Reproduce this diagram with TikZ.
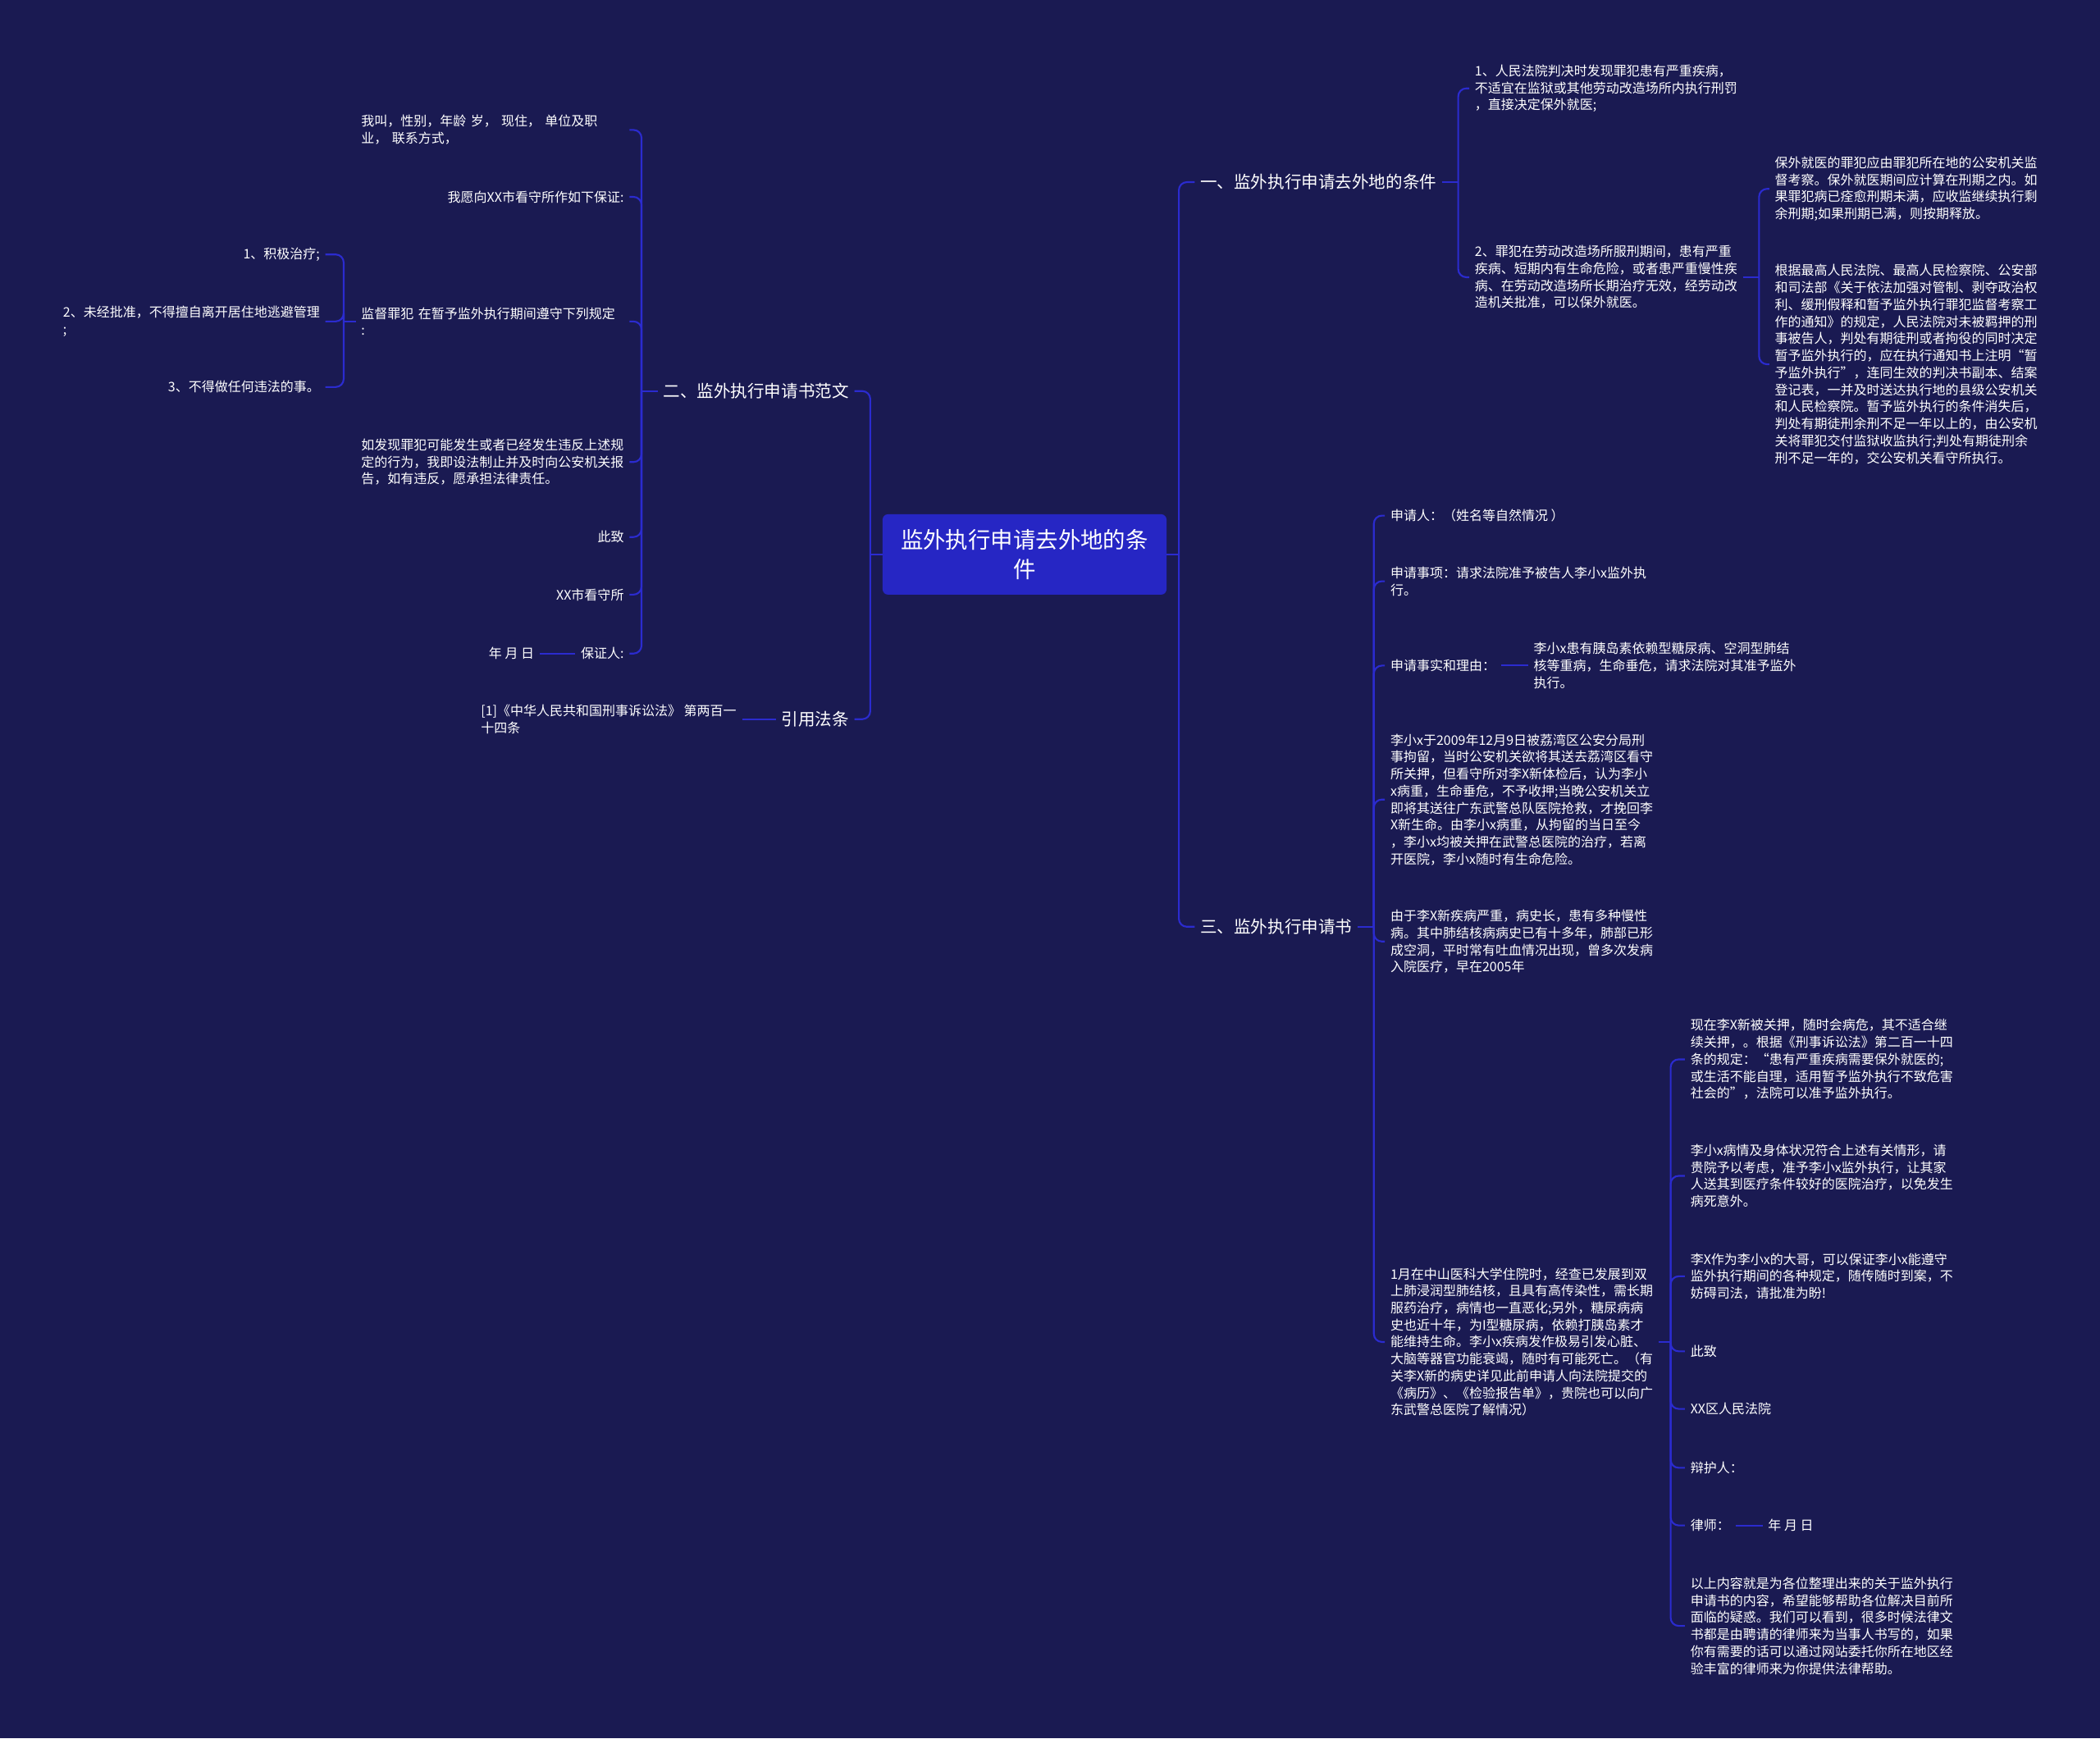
\documentclass[tikz,border=0pt]{standalone}
\usepackage{fontspec}
\setmainfont{Noto Sans CJK SC}
\usetikzlibrary{positioning,calc}
\definecolor{bgnavy}{HTML}{1A1A52}
\definecolor{linkblue}{HTML}{2B2BCF}
\definecolor{rootblue}{HTML}{2626C4}
\tikzset{
  root/.style={fill=rootblue, rounded corners=4pt, text=white, align=center,
    minimum width=212pt, minimum height=60pt,
    font=\fontsize{16.8}{22}\selectfont},
  branch/.style={text=white, inner xsep=4pt, inner ysep=2pt,
    font=\fontsize{12.6}{16}\selectfont},
  leaf/.style={text=white, align=left, inner xsep=4pt, inner ysep=2pt,
    font=\fontsize{9.8}{12.7}\selectfont},
  wideleaf/.style={leaf, text width=196pt},
  link/.style={draw=linkblue, line width=1.3pt},
  curvelink/.style={link, rounded corners=6pt}
}

\begin{document}
\begin{tikzpicture}[x=1pt,y=-1pt]
    % background and page size
    \fill[bgnavy] (0,0) rectangle (1568,1298);
    \useasboundingbox (0,0) rectangle (1568,1298);

    % the centre and the four branches
    \node [root] (root) at (765,414) {监外执行申请去外地的条\\件};
    \node [branch, anchor=west] (cond) at (892,136) {一、监外执行申请去外地的条件};
    \node [branch, anchor=west] (app) at (892,692) {三、监外执行申请书};
    \node [branch, anchor=east] (form) at (638,292) {二、监外执行申请书范文};
    \node [branch, anchor=east] (law) at (638,537) {引用法条};

    % branch one
    \node [leaf, anchor=west] (cond1) at (1097,66) {1、人民法院判决时发现罪犯患有严重疾病，\\不适宜在监狱或其他劳动改造场所内执行刑罚\\，直接决定保外就医;};
    \node [leaf, anchor=west] (cond2) at (1097,207) {2、罪犯在劳动改造场所服刑期间，患有严重\\疾病、短期内有生命危险，或者患严重慢性疾\\病、在劳动改造场所长期治疗无效，经劳动改\\造机关批准，可以保外就医。};
    \node [leaf, anchor=west] (cond2a) at (1321,141) {保外就医的罪犯应由罪犯所在地的公安机关监\\督考察。保外就医期间应计算在刑期之内。如\\果罪犯病已痊愈刑期未满，应收监继续执行剩\\余刑期;如果刑期已满，则按期释放。};
    \node [leaf, anchor=west] (cond2b) at (1321,272) {根据最高人民法院、最高人民检察院、公安部\\和司法部《关于依法加强对管制、剥夺政治权\\利、缓刑假释和暂予监外执行罪犯监督考察工\\作的通知》的规定，人民法院对未被羁押的刑\\事被告人，判处有期徒刑或者拘役的同时决定\\暂予监外执行的，应在执行通知书上注明“暂\\予监外执行”，连同生效的判决书副本、结案\\登记表，一并及时送达执行地的县级公安机关\\和人民检察院。暂予监外执行的条件消失后，\\判处有期徒刑余刑不足一年以上的，由公安机\\关将罪犯交付监狱收监执行;判处有期徒刑余\\刑不足一年的，交公安机关看守所执行。};

    % branch three
    \node [leaf, anchor=west] (aName) at (1034,385) {申请人：（姓名等自然情况 ）};
    \node [leaf, anchor=west] (aItem) at (1034,434) {申请事项：请求法院准予被告人李小x监外执\\行。};
    \node [leaf, anchor=west] (aFact) at (1034,497) {申请事实和理由：};
    \node [leaf, anchor=west] (aFactTxt) at (1141,497) {李小x患有胰岛素依赖型糖尿病、空洞型肺结\\核等重病，生命垂危，请求法院对其准予监外\\执行。};
    \node [leaf, anchor=west] (aStory) at (1034,597) {李小x于2009年12月9日被荔湾区公安分局刑\\事拘留，当时公安机关欲将其送去荔湾区看守\\所关押，但看守所对李X新体检后，认为李小\\x病重，生命垂危，不予收押;当晚公安机关立\\即将其送往广东武警总队医院抢救，才挽回李\\X新生命。由李小x病重，从拘留的当日至今\\，李小x均被关押在武警总医院的治疗，若离\\开医院，李小x随时有生命危险。};
    \node [leaf, anchor=west] (aHist) at (1034,703) {由于李X新疾病严重，病史长，患有多种慢性\\病。其中肺结核病病史已有十多年，肺部已形\\成空洞，平时常有吐血情况出现，曾多次发病\\入院医疗，早在2005年};
    \node [leaf, anchor=west] (aHist2) at (1034,1002) {1月在中山医科大学住院时，经查已发展到双\\上肺浸润型肺结核，且具有高传染性，需长期\\服药治疗，病情也一直恶化;另外，糖尿病病\\史也近十年，为I型糖尿病，依赖打胰岛素才\\能维持生命。李小x疾病发作极易引发心脏、\\大脑等器官功能衰竭，随时有可能死亡。（有\\关李X新的病史详见此前申请人向法院提交的\\《病历》、《检验报告单》，贵院也可以向广\\东武警总医院了解情况）};
    \node [leaf, anchor=west] (aNow) at (1258,791) {现在李X新被关押，随时会病危，其不适合继\\续关押，。根据《刑事诉讼法》第二百一十四\\条的规定：“患有严重疾病需要保外就医的;\\或生活不能自理，适用暂予监外执行不致危害\\社会的”，法院可以准予监外执行。};
    \node [leaf, anchor=west] (aFit) at (1258,878) {李小x病情及身体状况符合上述有关情形，请\\贵院予以考虑，准予李小x监外执行，让其家\\人送其到医疗条件较好的医院治疗，以免发生\\病死意外。};
    \node [leaf, anchor=west] (aBro) at (1258,953) {李X作为李小x的大哥，可以保证李小x能遵守\\监外执行期间的各种规定，随传随时到案，不\\妨碍司法，请批准为盼!};
    \node [leaf, anchor=west] (aCizhi) at (1258,1009) {此致};
    \node [leaf, anchor=west] (aCourt) at (1258,1052) {XX区人民法院};
    \node [leaf, anchor=west] (aDef) at (1258,1096) {辩护人：};
    \node [leaf, anchor=west] (aLaw) at (1258,1139) {律师：};
    \node [leaf, anchor=west] (aDate) at (1316,1139) {年 月 日};
    \node [leaf, anchor=west] (aEnd) at (1258,1214) {以上内容就是为各位整理出来的关于监外执行\\申请书的内容，希望能够帮助各位解决目前所\\面临的疑惑。我们可以看到，很多时候法律文\\书都是由聘请的律师来为当事人书写的，如果\\你有需要的话可以通过网站委托你所在地区经\\验丰富的律师来为你提供法律帮助。};

    % branch two
    \node [wideleaf, anchor=east] (fName) at (470,97) {我叫，性别，年龄 岁， 现住， 单位及职\\业， 联系方式，};
    \node [leaf, anchor=east] (fPledge) at (470,147) {我愿向XX市看守所作如下保证:};
    \node [wideleaf, anchor=east] (fRules) at (470,240) {监督罪犯 在暂予监外执行期间遵守下列规定\\:};
    \node [leaf, anchor=east] (fRule1) at (243,190) {1、积极治疗;};
    \node [leaf, anchor=east] (fRule2) at (243,240) {2、未经批准，不得擅自离开居住地逃避管理\\;};
    \node [leaf, anchor=east] (fRule3) at (243,289) {3、不得做任何违法的事。};
    \node [leaf, anchor=east] (fReport) at (470,345) {如发现罪犯可能发生或者已经发生违反上述规\\定的行为，我即设法制止并及时向公安机关报\\告，如有违反，愿承担法律责任。};
    \node [leaf, anchor=east] (fCizhi) at (470,401) {此致};
    \node [leaf, anchor=east] (fJail) at (470,444) {XX市看守所};
    \node [leaf, anchor=east] (fGuar) at (470,488) {保证人:};
    \node [leaf, anchor=east] (fDate) at (403,488) {年 月 日};

    % branch four
    \node [leaf, anchor=east] (lawRef) at (554,537) {[1]《中华人民共和国刑事诉讼法》 第两百一\\十四条};

    % connectors, right side
    \draw [link] (root.east) -- ++(9,0) coordinate (rootR);
    \foreach \c in {cond,app} \draw [curvelink] (rootR) |- (\c.west);
    \draw [link] (cond.east) -- ++(12,0) coordinate (condR);
    \foreach \c in {cond1,cond2} \draw [curvelink] (condR) |- (\c.west);
    \draw [link] (cond2.east) -- ++(12,0) coordinate (cond2R);
    \foreach \c in {cond2a,cond2b} \draw [curvelink] (cond2R) |- (\c.west);
    \draw [link] (app.east) -- ++(12,0) coordinate (appR);
    \foreach \c in {aName,aItem,aFact,aStory,aHist,aHist2} \draw [curvelink] (appR) |- (\c.west);
    \draw [link] (aFact.east) -- (aFactTxt.west);
    \draw [link] (aHist2.east) -- ++(9,0) coordinate (aHist2R);
    \foreach \c in {aNow,aFit,aBro,aCizhi,aCourt,aDef,aLaw,aEnd} \draw [curvelink] (aHist2R) |- (\c.west);
    \draw [link] (aLaw.east) -- (aDate.west);

    % connectors, left side
    \draw [link] (root.west) -- ++(-9,0) coordinate (rootL);
    \foreach \c in {form,law} \draw [curvelink] (rootL) |- (\c.east);
    \draw [link] (form.west) -- ++(-12,0) coordinate (formL);
    \foreach \c in {fName,fPledge,fRules,fReport,fCizhi,fJail,fGuar} \draw [curvelink] (formL) |- (\c.east);
    \draw [link] (fRules.west) -- ++(-9,0) coordinate (fRulesL);
    \foreach \c in {fRule1,fRule2,fRule3} \draw [curvelink] (fRulesL) |- (\c.east);
    \draw [link] (fGuar.west) -- (fDate.east);
    \draw [link] (law.west) -- (lawRef.east);
\end{tikzpicture}
\end{document}
